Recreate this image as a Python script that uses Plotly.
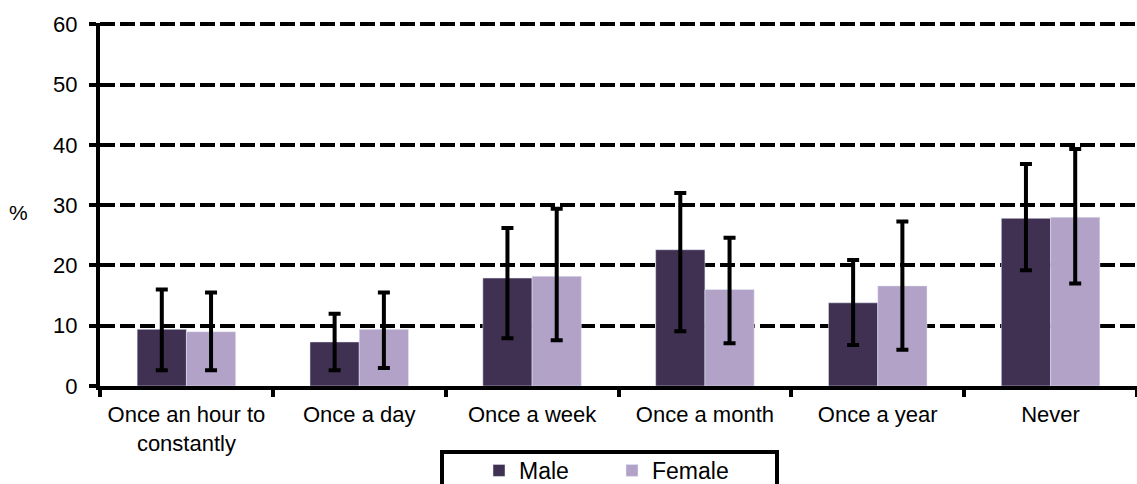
import plotly.graph_objects as go

categories = ["Once an hour to<br>constantly", "Once a day", "Once a week", "Once a month", "Once a year", "Never"]
male = [9.4, 7.3, 17.9, 22.6, 13.8, 27.8]
male_hi = [16.0, 12.0, 26.2, 32.0, 20.9, 36.8]
male_lo = [2.6, 2.6, 7.9, 9.1, 6.8, 19.2]
female = [9.0, 9.4, 18.2, 16.0, 16.6, 28.0]
female_hi = [15.5, 15.5, 29.4, 24.6, 27.3, 39.3]
female_lo = [2.6, 3.0, 7.6, 7.1, 6.0, 17.0]

def err(vals, hi, lo):
    return dict(type="data", symmetric=False,
                array=[h - v for v, h in zip(vals, hi)],
                arrayminus=[v - l for v, l in zip(vals, lo)],
                color="black", thickness=4, width=6)

fig = go.Figure()
fig.add_trace(go.Bar(name="Male", x=categories, y=male, marker_color="#403152",
                     error_y=err(male, male_hi, male_lo)))
fig.add_trace(go.Bar(name="Female", x=categories, y=female, marker_color="#B3A2C7",
                     error_y=err(female, female_hi, female_lo)))

PW = 1037.0
PH = 363.0
def px(x):
    return (x - 100) / PW
def py(y):
    return (386 - y) / PH

fig.update_layout(
    width=1137, height=484,
    margin=dict(l=100, r=0, t=23, b=98, autoexpand=False),
    paper_bgcolor="white", plot_bgcolor="white",
    barmode="group", bargap=0.43, bargroupgap=0,
    font=dict(family="Liberation Sans, Arial, sans-serif", size=22, color="black"),
    showlegend=True,
    legend=dict(orientation="h", x=px(479), xanchor="left", y=py(449), yanchor="top",
                borderwidth=0, font=dict(size=23), bgcolor="rgba(0,0,0,0)",
                entrywidth=88, traceorder="normal"),
    xaxis=dict(showline=True, linecolor="black", linewidth=4, ticks="outside",
               tickson="boundaries", ticklen=7, tickwidth=4, tickcolor="black",
               showgrid=False, fixedrange=True, ticklabelstandoff=6,
               tickangle=0, tickfont=dict(size=22)),
    yaxis=dict(range=[0, 60.2], tickvals=[0, 10, 20, 30, 40, 50, 60], showline=True,
               linecolor="black", linewidth=4,
               ticks="outside", ticklen=7, tickwidth=4, tickcolor="black",
               showgrid=True, gridcolor="black", gridwidth=4, griddash="15px,5px",
               zeroline=False, ticklabelstandoff=7),
    shapes=[dict(type="rect", xref="paper", yref="paper",
                 x0=px(442), x1=px(777), y0=py(452), y1=py(500),
                 line=dict(color="black", width=4), fillcolor="rgba(0,0,0,0)")],
    annotations=[dict(text="%", xref="paper", yref="paper", x=px(18), y=py(213),
                      xanchor="center", yanchor="middle",
                      showarrow=False, font=dict(size=21))],
)

fig.write_html("out.html", config={"displayModeBar": False},
               post_script="document.body.style.margin='0';document.body.style.overflow='hidden';")
